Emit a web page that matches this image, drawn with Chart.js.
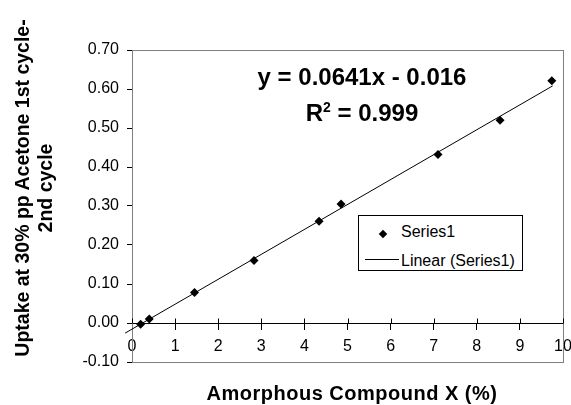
<!DOCTYPE html>
<html>
<head>
<meta charset="utf-8">
<script src="https://cdn.jsdelivr.net/npm/chart.js@4/dist/chart.umd.min.js"></script>
<style>
  html, body { margin: 0; padding: 0; background: #fff; overflow: hidden; }
  #wrap { position: relative; width: 571px; height: 405px; overflow: hidden; font-family: "Liberation Sans", Arial, sans-serif; color: #000; }
  canvas { position: absolute; left: 0; top: 0; }
  .ytitle { position: absolute; left: -156.5px; top: 165px; width: 380px; height: 46px;
            font-weight: bold; font-size: 19.5px; line-height: 23px; text-align: center;
            transform: rotate(-90deg); white-space: nowrap; }
  .xtitle { position: absolute; left: 152px; top: 383px; width: 400px; text-align: center;
            font-weight: bold; font-size: 20px; line-height: 20px; letter-spacing: 0.5px; white-space: nowrap; }
  .eq { position: absolute; left: 212px; width: 300px; text-align: center;
        font-weight: bold; font-size: 24px; line-height: 24px; white-space: nowrap; }
  .eq sup { font-size: 14px; vertical-align: 9px; line-height: 0; }
  .legend { position: absolute; left: 358px; top: 215px; width: 163px; height: 54px;
            border: 1px solid #000; background: #fff; font-size: 16px; }
  .legend .row { position: absolute; left: 42px; line-height: 16px; white-space: nowrap; }
  .legend .dia { position: absolute; left: 21px; top: 15px; width: 6px; height: 6px; background: #000; transform: rotate(45deg); }
  .legend .ln { position: absolute; left: 6px; top: 43px; width: 34px; height: 1px; background: #000; }
</style>
</head>
<body>
<div id="wrap">
  <canvas id="chart" width="571" height="405"></canvas>
  <div class="ytitle">Uptake at 30% pp Acetone 1st cycle-<br>2nd cycle</div>
  <div class="xtitle">Amorphous Compound X (%)</div>
  <div class="eq" style="top:65px">y = 0.0641x - 0.016</div>
  <div class="eq" style="top:101px">R<sup>2</sup> = 0.999</div>
  <div class="legend">
    <div class="dia"></div>
    <div class="row" style="top:8px">Series1</div>
    <div class="ln"></div>
    <div class="row" style="top:37px">Linear (Series1)</div>
  </div>
</div>
<script>
// values
const amorphousX = [0.2, 0.4, 1.45, 2.83, 4.34, 4.85, 7.1, 8.54, 9.74];
const uptake = [-0.003, 0.010, 0.078, 0.160, 0.261, 0.305, 0.432, 0.520, 0.621];
// trendline end points, as drawn
const trendX = [-0.16, 9.76];
const trendY = [-0.026, 0.608];

const yTicks = [-0.1, 0, 0.1, 0.2, 0.3, 0.4, 0.5, 0.6, 0.7];
const xTicks = [0, 1, 2, 3, 4, 5, 6, 7, 8, 9, 10];

const FONT = '"Liberation Sans", Arial, sans-serif';

// frame round the plot area + tick marks crossing the zero line
const frame = {
  id: 'frame',
  beforeDatasetsDraw(chart) {
    const { ctx, chartArea: a, scales } = chart;
    ctx.save();
    ctx.strokeStyle = '#7f7f7f';
    ctx.lineWidth = 1;
    ctx.strokeRect(a.left + 0.5, a.top + 0.5, a.right - a.left, a.bottom - a.top);
    const y0 = Math.round(scales.y.getPixelForValue(0)) + 0.5;
    ctx.strokeStyle = '#000';
    ctx.beginPath();
    xTicks.forEach(v => {
      const px = Math.round(scales.x.getPixelForValue(v)) + 0.5;
      ctx.moveTo(px, y0 - 5);
      ctx.lineTo(px, y0);
    });
    ctx.stroke();
    ctx.restore();
  }
};

new Chart(document.getElementById('chart').getContext('2d'), {
  type: 'scatter',
  data: {
    datasets: [
      {
        label: 'Series1',
        data: amorphousX.map((x, i) => ({ x: x, y: uptake[i] })),
        pointStyle: 'rectRot',
        pointRadius: 4.5,
        backgroundColor: '#000',
        borderColor: '#000',
        borderWidth: 0,
        order: 1
      },
      {
        label: 'Linear (Series1)',
        type: 'line',
        data: trendX.map((x, i) => ({ x: x, y: trendY[i] })),
        borderColor: '#000',
        borderWidth: 1,
        pointRadius: 0,
        fill: false,
        clip: false,
        order: 2
      }
    ]
  },
  options: {
    responsive: false,
    animation: false,
    layout: { autoPadding: false, padding: { left: 0, top: 50, right: 8, bottom: 43 } },
    plugins: { legend: { display: false }, tooltip: { enabled: false } },
    scales: {
      x: {
        type: 'linear',
        position: { y: 0 },
        min: 0, max: 10,
        afterBuildTicks: s => { s.ticks = xTicks.map(v => ({ value: v })); },
        // the "10" label is allowed to run off the right edge, as in the original
        afterFit: s => { s.paddingLeft = 0; s.paddingRight = 0; },
        ticks: { color: '#000', font: { family: FONT, size: 16 }, padding: 8, maxRotation: 0 },
        grid: { drawOnChartArea: false, tickLength: 6, color: '#000', tickWidth: 1 },
        border: { color: '#000', width: 1 }
      },
      y: {
        min: -0.1, max: 0.7,
        afterBuildTicks: s => { s.ticks = yTicks.map(v => ({ value: v })); },
        afterFit: s => { s.width = 132; },
        ticks: { color: '#000', font: { family: FONT, size: 16 }, padding: 8,
                 callback: v => v.toFixed(2) },
        grid: { drawOnChartArea: false, tickLength: 5, color: '#000' },
        border: { color: '#000', width: 1 }
      }
    }
  },
  plugins: [frame]
});
</script>
</body>
</html>
